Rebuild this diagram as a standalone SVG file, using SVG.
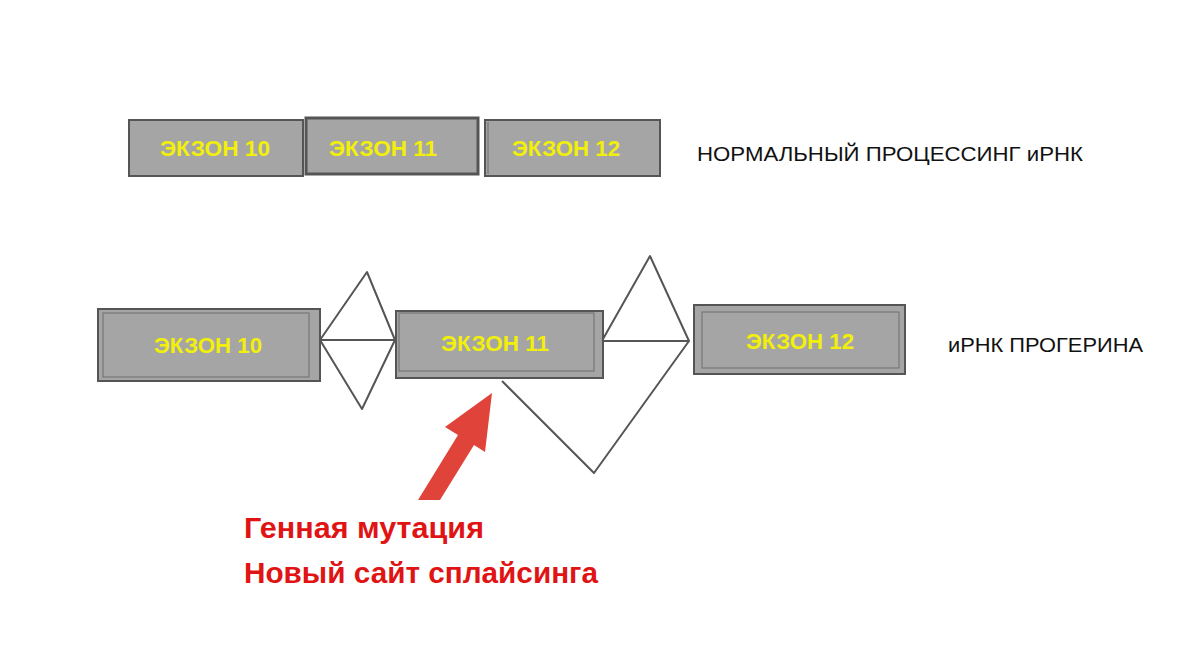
<svg xmlns="http://www.w3.org/2000/svg" width="1200" height="652" viewBox="0 0 1200 652">
<style>
.box{fill:#a5a5a5;stroke:#555;stroke-width:2}
.inner{fill:none;stroke:#6e6e6e;stroke-width:1}
.ex{font-family:"Liberation Sans",Arial,sans-serif;font-weight:bold;font-size:22px;fill:#f2f00a;text-anchor:middle}
.lbl{font-family:"Liberation Sans",Arial,sans-serif;font-size:21px;fill:#111}
.red{font-family:"Liberation Sans",Arial,sans-serif;font-weight:bold;font-size:29px;fill:#e01414}
.ln{fill:none;stroke:#555;stroke-width:2;stroke-linejoin:round}
</style>
<rect width="1200" height="652" fill="#fff"/>
<g id="top-exon10"><rect x="129" y="120" width="174" height="56" class="box"/><text x="215" y="156" class="ex" textLength="110" lengthAdjust="spacingAndGlyphs">ЭКЗОН 10</text></g>
<g id="top-exon11"><rect x="306" y="118" width="172" height="56" class="box" style="stroke-width:3"/><text x="383" y="156" class="ex" textLength="108" lengthAdjust="spacingAndGlyphs">ЭКЗОН 11</text></g>
<g id="top-exon12"><rect x="485" y="120" width="175" height="56" class="box"/><line x1="488" y1="122" x2="488" y2="174" class="inner"/><text x="566" y="156" class="ex" textLength="108" lengthAdjust="spacingAndGlyphs">ЭКЗОН 12</text></g>
<text id="label-normal" x="697" y="161" class="lbl" textLength="386" lengthAdjust="spacingAndGlyphs">НОРМАЛЬНЫЙ ПРОЦЕССИНГ иРНК</text>
<g id="connectors">
<path d="M320,340 L367,272 L395,340 Z M320,340 L362,409 L395,340" class="ln"/>
<path d="M603,339 L650,256 L689,341 L603,341 M502,381 L594,473 L689,341" class="ln"/>
</g>
<g id="exon10"><rect x="98" y="309" width="222" height="72" class="box"/><rect x="103" y="313" width="206" height="64" class="inner"/><text x="208" y="353" class="ex" textLength="108" lengthAdjust="spacingAndGlyphs">ЭКЗОН 10</text></g>
<g id="exon11"><rect x="396" y="311" width="207" height="67" class="box"/><rect x="399" y="313" width="195" height="58" class="inner"/><text x="495" y="351" class="ex" textLength="108" lengthAdjust="spacingAndGlyphs">ЭКЗОН 11</text></g>
<g id="exon12"><rect x="694" y="305" width="211" height="69" class="box"/><rect x="702" y="312" width="197" height="56" class="inner"/><text x="800" y="349" class="ex" textLength="108" lengthAdjust="spacingAndGlyphs">ЭКЗОН 12</text></g>
<text id="label-progerin" x="948" y="352" class="lbl" textLength="195" lengthAdjust="spacingAndGlyphs">иРНК ПРОГЕРИНА</text>
<g id="arrow"><polygon points="492,393 485,452 474,445 440,500 418,500 458,435 445,427" fill="#e0433a"/></g>
<g id="mutation-label"><text x="244" y="538" class="red" textLength="240" lengthAdjust="spacingAndGlyphs">Генная мутация</text><text x="244" y="583" class="red" textLength="354" lengthAdjust="spacingAndGlyphs">Новый сайт сплайсинга</text></g>
</svg>
